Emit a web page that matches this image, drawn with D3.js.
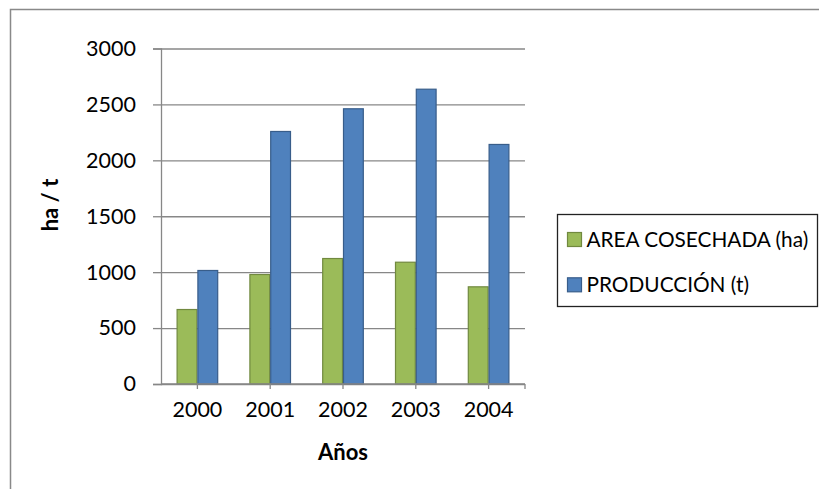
<!DOCTYPE html>
<html><head><meta charset="utf-8">
<script src="https://cdn.jsdelivr.net/npm/d3@7"></script>
<style>body{margin:0;background:#fff}svg{display:block}</style>
</head><body>
<svg id="c" width="819" height="489"></svg>
<script>
const years = ["2000", "2001", "2002", "2003", "2004"];
const seriesNames = ["AREA COSECHADA (ha)", "PRODUCCIÓN (t)"];
const areaCosechada = [666, 979, 1122, 1089, 869];
const produccion = [1015, 2258, 2461, 2636, 2142];
const yTicks = [0, 500, 1000, 1500, 2000, 2500, 3000];
const yTitle = "ha / t";
const xTitle = "Años";

const fills = ["#9BBB59", "#4F81BD"];
const strokes = ["#71893F", "#385D8A"];
const FONT = "Lato, 'Open Sans', sans-serif";

const svg = d3.select("#c");
const L = 161, R = 525, T = 48.5, B = 384;

// outer chart border
svg.append("rect").attr("x", 10.5).attr("y", 9.5).attr("width", 830).attr("height", 500)
  .attr("fill", "none").attr("stroke", "#898989").attr("stroke-width", 1.5);

const x = d3.scaleBand().domain(years).range([L, R]).paddingInner(3/7).paddingOuter(3/14);
const xs = d3.scaleBand().domain([0, 1]).range([0, x.bandwidth()]);
const y = d3.scaleLinear().domain([0, 3000]).range([B, T]);

// gridlines + y axis
const yAxis = d3.axisLeft(y).tickValues(yTicks).tickSize(8).tickPadding(17).tickFormat(d3.format("d"));
const gy = svg.append("g").attr("transform", `translate(${L},0)`).call(yAxis);
gy.select(".domain").attr("stroke", "#878787").attr("stroke-width", 1.3);
gy.selectAll(".tick line").attr("stroke", "#878787").attr("stroke-width", 1.3);
gy.selectAll(".tick text").attr("font-family", FONT).attr("font-size", 21.5).attr("fill", "#000");
gy.selectAll(".tick").append("line").attr("x1", 0).attr("x2", R - L)
  .attr("stroke", "#878787").attr("stroke-width", 1.3);

// bars
const series = [areaCosechada, produccion];
series.forEach((vals, si) => {
  svg.append("g").selectAll("rect").data(vals).join("rect")
    .attr("x", (d, i) => x(years[i]) + xs(si) + 0.5)
    .attr("y", d => y(d))
    .attr("width", xs.bandwidth() - 1)
    .attr("height", d => B - y(d))
    .attr("fill", fills[si]).attr("stroke", strokes[si]).attr("stroke-width", 1.2);
});

// x axis
const xAxis = d3.axisBottom(x).tickSize(5).tickPadding(13);
const gx = svg.append("g").attr("transform", `translate(0,${B})`).call(xAxis);
gx.select(".domain").attr("d", `M${L},0H${R}`).attr("stroke", "#878787").attr("stroke-width", 1.3);
gx.selectAll(".tick line").attr("stroke", "#878787").attr("stroke-width", 1.3);
gx.selectAll(".tick text").attr("font-family", FONT).attr("font-size", 21.5).attr("fill", "#000");
gx.append("line").attr("x1", R).attr("x2", R).attr("y1", 0).attr("y2", 5)
  .attr("stroke", "#878787").attr("stroke-width", 1.3);

// axis titles
svg.append("text").attr("transform", "translate(58,205) rotate(-90)")
  .attr("text-anchor", "middle").attr("font-family", FONT).attr("font-weight", "bold")
  .attr("font-size", 22).text(yTitle);
svg.append("text").attr("x", (L + R) / 2).attr("y", 460)
  .attr("text-anchor", "middle").attr("font-family", FONT).attr("font-weight", "bold")
  .attr("font-size", 22).text(xTitle);

// legend
const lg = svg.append("g");
lg.append("rect").attr("x", 557.5).attr("y", 214.5).attr("width", 260).attr("height", 92)
  .attr("fill", "#fff").attr("stroke", "#222").attr("stroke-width", 1.3);
const items = lg.selectAll("g.it").data(seriesNames).join("g").attr("class", "it")
  .attr("transform", (d, i) => `translate(567.5,${232.5 + i * 45.3})`);
items.append("rect").attr("width", 14).attr("height", 14)
  .attr("fill", (d, i) => fills[i]).attr("stroke", (d, i) => strokes[i]).attr("stroke-width", 1.2);
items.append("text").attr("x", 19).attr("y", 14.5).attr("font-family", FONT)
  .attr("font-size", 20.8).attr("fill", "#000").text(d => d);
</script>
</body></html>
